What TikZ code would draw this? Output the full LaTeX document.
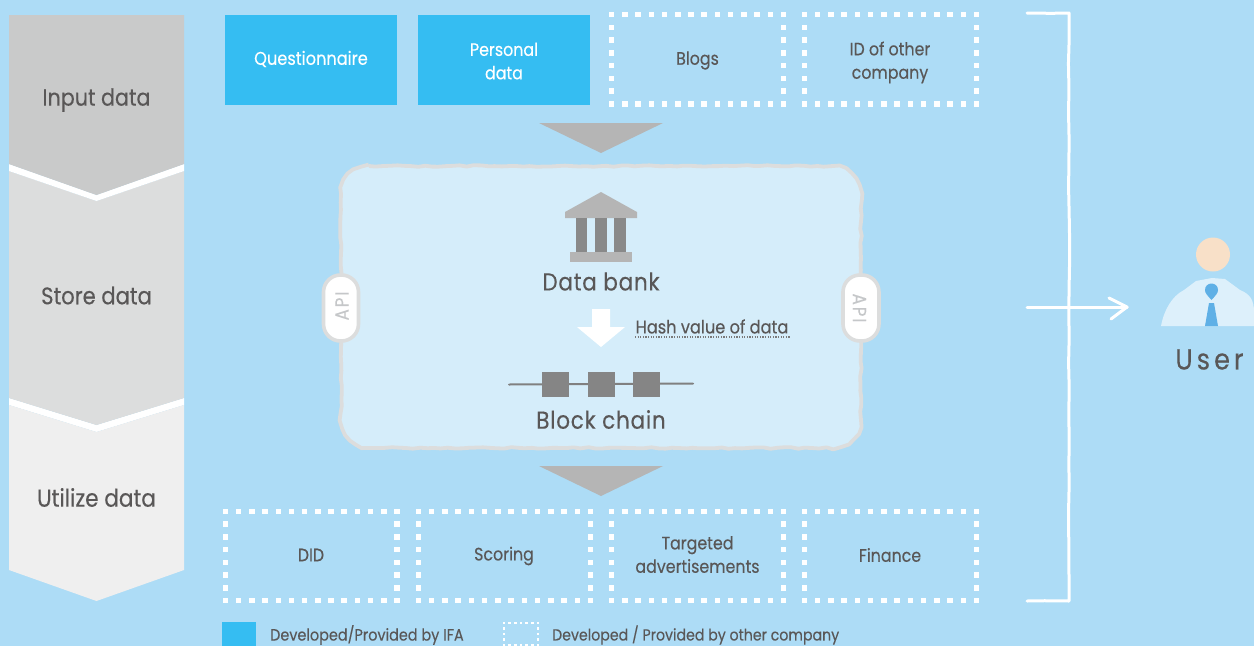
\documentclass[tikz,border=0pt]{standalone}
\usepackage{fontspec}
\setmainfont[FakeStretch=0.88,FakeBold=0.25]{Poppins}
\usetikzlibrary{decorations.pathmorphing}
\definecolor{bg}{HTML}{ADDCF6}
\definecolor{ifa}{HTML}{35BDF2}
\definecolor{txt}{HTML}{595757}
\definecolor{tri}{HTML}{B5B5B5}
\definecolor{dk}{HTML}{898989}
\definecolor{blk}{HTML}{858585}
\definecolor{panel}{HTML}{D5EDFA}
\definecolor{edge}{HTML}{DCDDDD}
\definecolor{apit}{HTML}{C5C7C9}
\tikzset{
 x=1pt,y=-1pt,
 lab/.style={text=txt,align=center,font=\fontsize{#1}{1.3\dimexpr#1pt\relax}\selectfont,inner sep=0pt},
 lab/.default=18,
 ifabox/.style={fill=ifa,draw=none},
 wire/.style={draw=white,line width=3pt,line cap=round,line join=round},
 wob/.style={decorate,decoration={random steps,segment length=#1,amplitude=0.8pt}},
}
\newcommand{\ls}[1]{\addfontfeature{LetterSpace=#1}}
\newcommand{\dotrect}[7]{% x0 y0 x1 y1 nx ny size
 \foreach \i in {0,...,#5}{
  \pgfmathsetmacro{\px}{#1+(#3-#1)*\i/#5}
  \fill[white] (\px-#7/2,#2-#7/2) rectangle (\px+#7/2,#2+#7/2);
  \fill[white] (\px-#7/2,#4-#7/2) rectangle (\px+#7/2,#4+#7/2);
 }
 \foreach \i in {1,...,#6}{
  \pgfmathsetmacro{\py}{#2+(#4-#2)*\i/(#6+1)}
  \fill[white] (#1-#7/2,\py-#7/2) rectangle (#1+#7/2,\py+#7/2);
  \fill[white] (#3-#7/2,\py-#7/2) rectangle (#3+#7/2,\py+#7/2);
 }
}
\begin{document}
\begin{tikzpicture}
\useasboundingbox (0,0) rectangle (1254,646);
\fill[bg] (0,0) rectangle (1254,646);
% left chevrons
\fill[white] (9,398) -- (96.5,425) -- (184,398) -- (184,405) -- (96.5,432) -- (9,405) -- cycle;
\fill[fill={rgb,255:red,239;green,239;blue,239}] (9,405) -- (96.5,432) -- (184,405) -- (184,570) -- (96.5,601) -- (9,570) -- cycle;
\fill[fill=edge] (9,171) -- (96.5,201) -- (184,171) -- (184,398) -- (96.5,425) -- (9,398) -- cycle;
\fill[white] (9,164) -- (96.5,195) -- (184,164) -- (184,171) -- (96.5,201) -- (9,171) -- cycle;
\fill[fill={rgb,255:red,201;green,202;blue,202}] (9,15) -- (184,15) -- (184,164) -- (96.5,195) -- (9,164) -- cycle;
\node[lab=23.5] (input) at (96.5,100) {Input data};
\node[lab=24] (store) at (96.5,295.5) {Store data};
\node[lab=24.5] (util) at (96.5,497.5) {Utilize data};
% top row
\node[ifabox,minimum width=172pt,minimum height=90pt,inner sep=0pt] (q) at (311,60) {};
\node[lab=18.4,text=white] at (311,59) {Questionnaire};
\node[ifabox,minimum width=172pt,minimum height=90pt,inner sep=0pt] (p) at (504,60) {};
\node[lab=18,text=white] at (504,61) {Personal\\data};
\dotrect{611.7}{14.7}{783.5}{104}{13}{6}{5.5}
\dotrect{804.5}{14.7}{976.5}{104}{13}{6}{5.5}
\node[lab=18] (blogs) at (697.5,60.5) {Blogs};
\node[lab=18] (idco) at (890,62.5) {ID of other\\company};
% triangles
\fill[tri] (539,123) -- (663,123) -- (601,153) -- cycle;
\fill[tri] (539,466) -- (663,466) -- (601,496) -- cycle;
% panel
\draw[draw=edge,fill=panel,line width=3.8pt,line join=round,wob=7pt] (369,166) -- (833,166) arc[start angle=90,end angle=0,radius=28pt] -- (861,420) arc[start angle=0,end angle=-90,radius=28pt] -- (369,448) arc[start angle=-90,end angle=-180,radius=28pt] -- (341,194) arc[start angle=180,end angle=90,radius=28pt] -- cycle;
% API pills
\draw[draw=edge,fill=white,line width=3.6pt,rounded corners=17pt] (323.5,275) rectangle (358.5,341);
\draw[draw=edge,fill=white,line width=3.6pt,rounded corners=17pt] (843,275) rectangle (879,341);
\node[lab=19,text=apit,rotate=90] (apil) at (342,306) {\ls{10}API};
\node[lab=19,text=apit,rotate=-90] (apir) at (859.5,308) {\ls{10}API};
% bank icon
\fill[tri] (601,192) -- (637,212) -- (637,218) -- (565,218) -- (565,212) -- cycle;
\fill[dk] (576,218) rectangle (587,252);
\fill[dk] (595,218) rectangle (607,252);
\fill[dk] (614,218) rectangle (626,252);
\fill[tri] (570,252) rectangle (632,262);
\node[lab=24.5] (bank) at (601,281.5) {\ls{3}Data bank};
% white arrow
\fill[white] (592,309) -- (610,309) -- (610,327) -- (625,327) -- (601,347) -- (577,327) -- (592,327) -- cycle;
\node[lab=18.4] (hash) at (712,326.5) {Hash value of data};
\draw[txt!80,line width=1.2pt,dash pattern=on 1.2pt off 1.4pt] (635,337) -- (790,337);
% chain
\draw[draw={rgb,255:red,128;green,128;blue,128},line width=2pt,line cap=round] (509,384.5) -- (693,383.5);
\fill[blk] (542,372) rectangle (569,397);
\fill[blk] (588,372) rectangle (615,397);
\fill[blk] (633,372) rectangle (660,397);
\node[lab=24.5] (chain) at (601,419.5) {\ls{3}Block chain};
% bottom row
\dotrect{225.5}{511.5}{397}{600.5}{13}{6}{5.5}
\dotrect{418.5}{511.5}{590.5}{600.5}{13}{6}{5.5}
\dotrect{611.7}{511.5}{783.5}{600.5}{13}{6}{5.5}
\dotrect{804.5}{511.5}{976.5}{600.5}{13}{6}{5.5}
\node[lab=18] (did) at (311,555) {DID};
\node[lab=18] (sc) at (504,556) {Scoring};
\node[lab=18] (ta) at (697.5,554.5) {Targeted\\advertisements};
\node[lab=18] (fi) at (890,555) {Finance};
% bracket
\draw[wire,wob=25pt] (1027,13) -- (1069,13) -- (1069,601) -- (1027,601);
\coordinate (as) at (1027,307);
\coordinate (ae) at (1127,307);
\draw[wire] (as) -- (ae);
\draw[wire] (1109,298) -- (ae) -- (1111,319);
% user
\fill[fill={rgb,255:red,248;green,224;blue,200}] (1213,254.5) circle (17pt);
\fill[fill={rgb,255:red,221;green,240;blue,251}] (1161,326) .. controls (1164,310) and (1172,296) .. (1184,290) -- (1196,281) -- (1212,278) -- (1225,279) -- (1240,290) .. controls (1250,294) and (1254,300) .. (1254,312) -- (1254,326) -- cycle;
\fill[fill={rgb,255:red,95;green,176;blue,230}] (1211.5,300) .. controls (1207,295) and (1205,293) .. (1205,290) .. controls (1205,286) and (1208,283.5) .. (1211.5,283.5) .. controls (1215,283.5) and (1218,286) .. (1218,290) .. controls (1218,293) and (1216,295) .. cycle;
\fill[fill={rgb,255:red,95;green,176;blue,230}] (1209,303) -- (1214,303) -- (1218,326) -- (1205,326) -- cycle;
\node[lab=29] (user) at (1209.5,359.5) {\ls{14}User};
% legend
\fill[ifa] (222,622) rectangle (256,646);
\node[lab=16.4,anchor=west] (l1) at (270,635) {Developed/Provided by IFA};
\dotrect{504}{623}{538}{645}{6}{3}{2.5}
\node[lab=16.1,anchor=west] (l2) at (552,635) {Developed / Provided by other company};
\end{tikzpicture}
\end{document}
